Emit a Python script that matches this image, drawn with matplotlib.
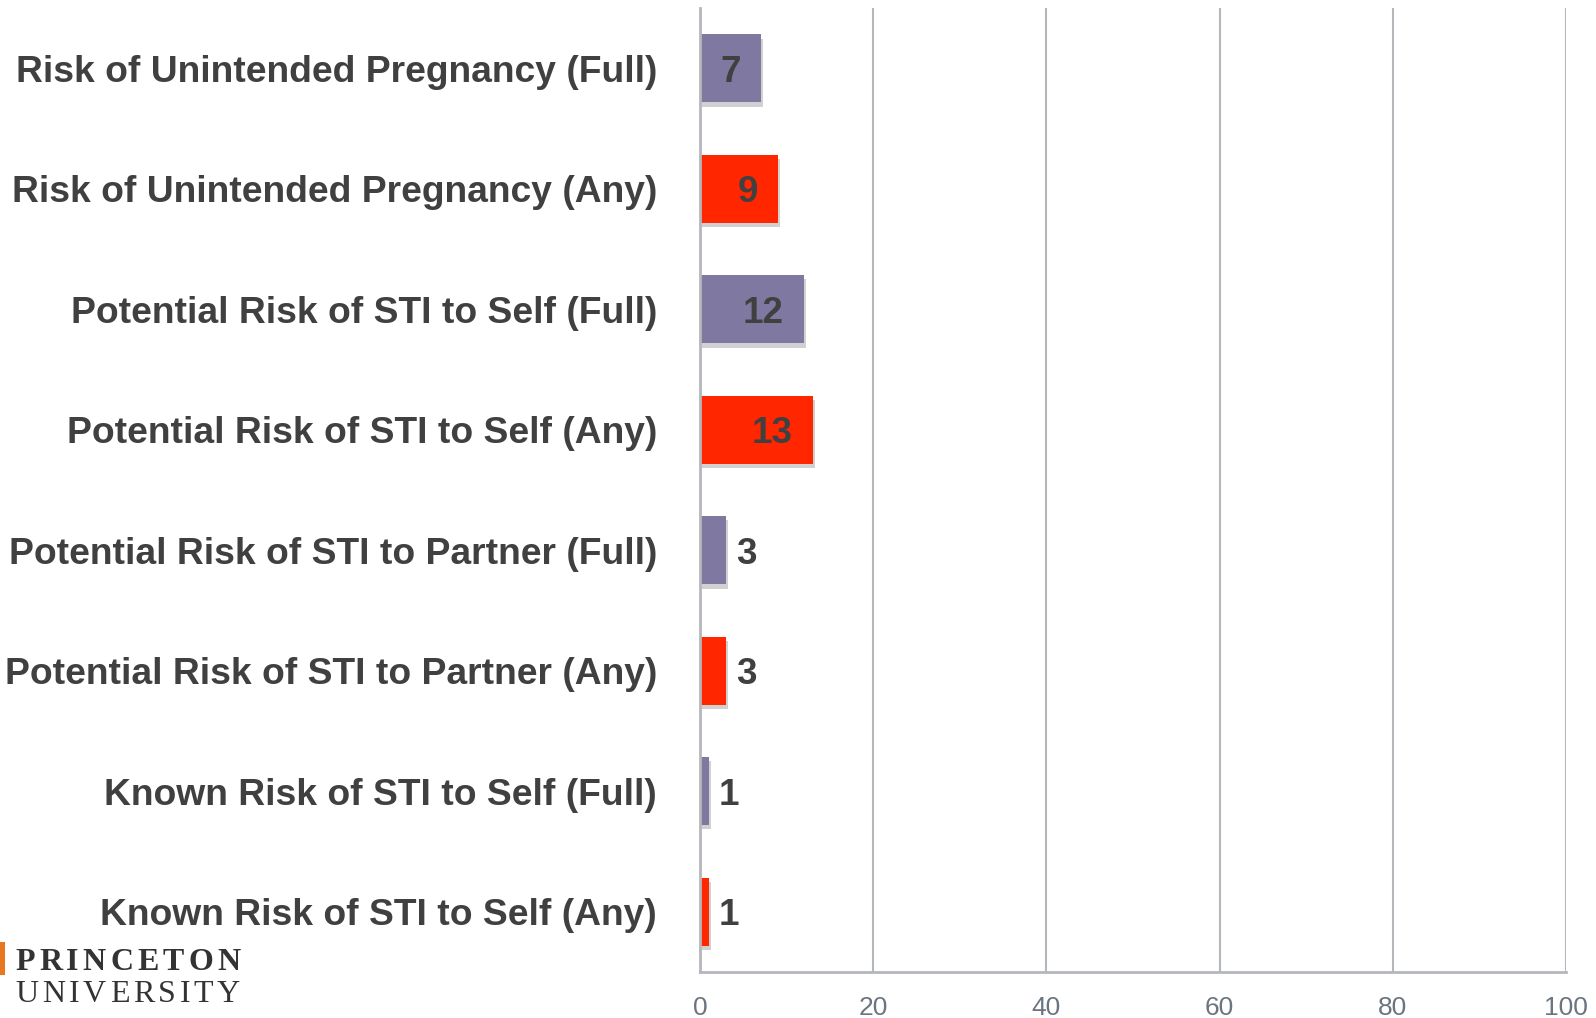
import matplotlib
matplotlib.use("Agg")
import matplotlib.pyplot as plt
import matplotlib.patheffects as pe
from matplotlib import font_manager

categories = [
    "Risk of Unintended Pregnancy (Full)",
    "Risk of Unintended Pregnancy (Any)",
    "Potential Risk of STI to Self (Full)",
    "Potential Risk of STI to Self (Any)",
    "Potential Risk of STI to Partner (Full)",
    "Potential Risk of STI to Partner (Any)",
    "Known Risk of STI to Self (Full)",
    "Known Risk of STI to Self (Any)",
]
values = [7, 9, 12, 13, 3, 3, 1, 1]
kinds = ["Full", "Any", "Full", "Any", "Full", "Any", "Full", "Any"]
xticks = [0, 20, 40, 60, 80, 100]

purple = "#7f79a1"
red = "#ff2600"
textcol = "#404040"
gridcol = "#b4b7bb"

names = {f.name for f in font_manager.fontManager.ttflist}
tickfont = "Liberation Sans Narrow" if "Liberation Sans Narrow" in names else "Liberation Sans"

fig = plt.figure(figsize=(15.96, 10.18), dpi=100)
ax = fig.add_axes([0.4386, 0.0452, 0.5426, 0.9468])

pos = list(range(len(categories)))
colors = [purple if k == "Full" else red for k in kinds]
bars = ax.barh(pos, values, height=0.565, color=colors, zorder=3)
for b in bars:
    b.set_path_effects([pe.SimplePatchShadow(offset=(1.5, -3), alpha=0.18, shadow_rgbFace="k"),
                        pe.Normal()])

ax.set_ylim(len(categories) - 0.5, -0.5)
ax.set_xlim(0, 100)
ax.set_xticks(xticks)
ax.set_xticklabels([str(t) for t in xticks], fontname=tickfont, fontsize=19, color="#6b7580")
ax.tick_params(axis="x", length=0, pad=17.5)
ax.set_yticks(pos)
ax.set_yticklabels(categories, fontname="Liberation Sans", fontweight="bold",
                   fontsize=26.8, color=textcol, va="center_baseline")
ax.tick_params(axis="y", length=0, pad=31)

ax.grid(axis="x", color=gridcol, lw=1.5, zorder=0)
for s in ["top", "right"]:
    ax.spines[s].set_visible(False)
for s in ["left", "bottom"]:
    ax.spines[s].set_color(gridcol)
    ax.spines[s].set_linewidth(2)
    ax.spines[s].set_zorder(4)

for p, v in zip(pos, values):
    if v >= 5:
        ax.annotate(str(v), (v, p), xytext=(-14.5, 0), textcoords="offset points",
                    ha="right", va="center_baseline", fontname="Liberation Sans",
                    fontweight="bold", fontsize=26.5, color=textcol, zorder=5)
    else:
        ax.annotate(str(v), (v, p), xytext=(7, 0), textcoords="offset points",
                    ha="left", va="center_baseline", fontname="Liberation Sans",
                    fontweight="bold", fontsize=26.5, color=textcol, zorder=5)


# logo text, letter-spaced
def spaced_text(word, x0, y, width_px, **kw):
    renderer = fig.canvas.get_renderer()
    pieces = []
    for ch in word:
        t = fig.text(0, y, ch, va="center", ha="left", **kw)
        pieces.append((t, t.get_window_extent(renderer).width))
    total = sum(w for _, w in pieces)
    gap = (width_px - total) / (len(word) - 1)
    x = x0 * fig.bbox.width
    for t, w in pieces:
        t.set_x(x / fig.bbox.width)
        x += w + gap


spaced_text("PRINCETON", 0.0096, 0.055, 225, fontname="Liberation Serif",
            fontweight="bold", fontsize=23, color="#333333")
spaced_text("UNIVERSITY", 0.0096, 0.023, 225, fontname="Liberation Serif",
            fontsize=23, color="#333333")
fig.patches.append(plt.Rectangle((0, 0.042), 0.003, 0.033, transform=fig.transFigure,
                                 facecolor="#e87722", edgecolor="none"))

fig.savefig("out.png", dpi=100)
